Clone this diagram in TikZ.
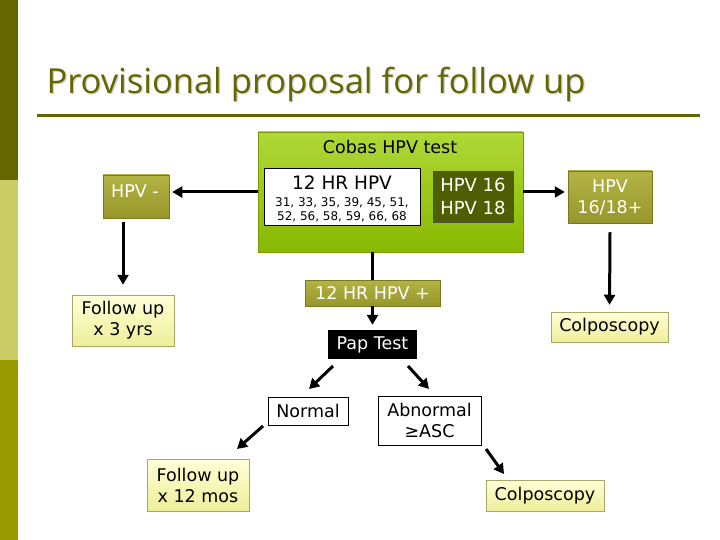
\documentclass[tikz,border=0pt]{standalone}
\usepackage{fontspec}
\setmainfont{DejaVu Sans}
\newfontfamily\titlefont{Open Sans}
\usetikzlibrary{arrows.meta}
\definecolor{olivedark}{HTML}{666600}
\definecolor{olivelight}{HTML}{CCCC66}
\definecolor{olivemid}{HTML}{999900}
\definecolor{greentop}{HTML}{B0D838}
\definecolor{greenbot}{HTML}{88B800}
\definecolor{olvtop}{HTML}{B4B444}
\definecolor{olvbot}{HTML}{96962A}
\definecolor{yeltop}{HTML}{FFFFD8}
\definecolor{yelbot}{HTML}{EEEE99}
\definecolor{darkbox}{HTML}{4F5E00}
\tikzset{
  box/.style={rectangle, inner sep=0pt, anchor=center, align=center},
  olvbox/.style={box, top color=olvtop, bottom color=olvbot, draw=olvbot!80!black, line width=0.5pt, text=white},
  yelbox/.style={box, top color=yeltop, bottom color=yelbot, draw=yelbot!70!black, line width=0.5pt, text=black},
  wbox/.style={box, fill=white, draw=black, line width=0.8pt},
  arr/.style={line width=3pt, -{Triangle[length=10pt,width=11pt]}},
  plain/.style={line width=3pt},
  txt/.style={font=\fontsize{17.5}{21}\selectfont}
}
\begin{document}
\begin{tikzpicture}[x=1pt,y=-1pt]
\useasboundingbox (0,0) rectangle (720,540);
\fill[white] (0,0) rectangle (720,540);
% left bar
\fill[olivedark] (0,0) rectangle (18,180);
\fill[olivelight] (0,180) rectangle (18,360);
\fill[olivemid] (0,360) rectangle (18,540);
% title
\node[anchor=west, text=black!18, font=\titlefont\fontsize{34.5}{40}\selectfont] (titleshadow) at (44.3,85.3) {Provisional proposal for follow up};
\node[anchor=west, text=olivedark, font=\titlefont\fontsize{34.5}{40}\selectfont] (title) at (43,84) {Provisional proposal for follow up};
\draw[olivedark, line width=3pt] (37,116) -- (700,116);
% green box
\node[box, minimum width=265pt, minimum height=120pt, top color=greentop, bottom color=greenbot, draw=greenbot!85!black, line width=0.5pt] (green) at (390.5,192) {};
\node[box, txt] (cobas) at (390,147) {Cobas HPV test};
\node[wbox, minimum width=156pt, minimum height=57pt] (hr12) at (342,196.5) {};
\node[box, font=\fontsize{18.5}{22}\selectfont] (hr12t) at (342,182.5) {12 HR HPV};
\node[box, font=\fontsize{12}{14.5}\selectfont] (hr12n) at (342,209.5) {31, 33, 35, 39, 45, 51,\\52, 56, 58, 59, 66, 68};
\node[box, minimum width=80pt, minimum height=51pt, fill=darkbox, draw=black!70, line width=0.5pt, text=white, font=\fontsize{18}{22.5}\selectfont] (hpv1618in) at (473,196.5) {HPV 16\\HPV 18};
% left branch
\node[olvbox, minimum width=66pt, minimum height=43pt] (hpvneg) at (136,196.5) {};
\node[box, txt, text=white] (hpvnegt) at (135,191) {HPV -};
\node[yelbox, txt, minimum width=102pt, minimum height=51pt] (fu3) at (123,320.5) {Follow up\\x 3 yrs};
% right branch
\node[olvbox, txt, minimum width=84pt, minimum height=52pt] (hpvpos) at (610,197) {HPV\\16/18+};
\node[yelbox, txt, minimum width=117pt, minimum height=30pt] (colpo1) at (609.5,327) {Colposcopy};
% middle
\node[olvbox, txt, minimum width=135pt, minimum height=26pt] (hrpos) at (372.5,293) {12 HR HPV +};
\node[box, txt, fill=black, text=white, minimum width=89pt, minimum height=29pt] (pap) at (372.5,344.5) {Pap Test};
\node[wbox, txt, minimum width=80pt, minimum height=28pt] (normal) at (308,411) {Normal};
\node[wbox, txt, minimum width=103pt, minimum height=49pt] (abn) at (429.5,420.5) {Abnormal\\≥ASC};
\node[yelbox, txt, minimum width=102pt, minimum height=52pt] (fu12) at (198,485) {Follow up\\x 12 mos};
\node[yelbox, txt, minimum width=118pt, minimum height=31pt] (colpo2) at (545,495.5) {Colposcopy};
% connector helper coordinates
\coordinate (a1s) at (333,366);
\coordinate (a1e) at (309,389);
\coordinate (a2s) at (408,366);
\coordinate (a2e) at (429,389);
\coordinate (a3s) at (263,426);
\coordinate (a3e) at (237,449);
\coordinate (a4s) at (486,449);
\coordinate (a4e) at (504,474);
% connectors
\draw[arr, shorten >=3pt] (green.west) -- (green.west -| hpvneg.east);
\draw[arr, shorten >=3pt] (green.east) -- (green.east -| hpvpos.west);
\draw[arr, shorten >=10pt] ([yshift=-4pt]hpvneg.south -| fu3.north) -- (fu3.north);
\draw[arr, shorten >=7pt] ([yshift=-9pt]hpvpos.south) -- (colpo1.north);
\draw[plain] (green.south -| hrpos.north) -- (hrpos.north);
\draw[arr, shorten >=5pt] (hrpos.south) -- (pap.north);
\draw[arr] (a1s) -- (a1e);
\draw[arr] (a2s) -- (a2e);
\draw[arr] (a3s) -- (a3e);
\draw[arr] (a4s) -- (a4e);
\end{tikzpicture}
\end{document}
